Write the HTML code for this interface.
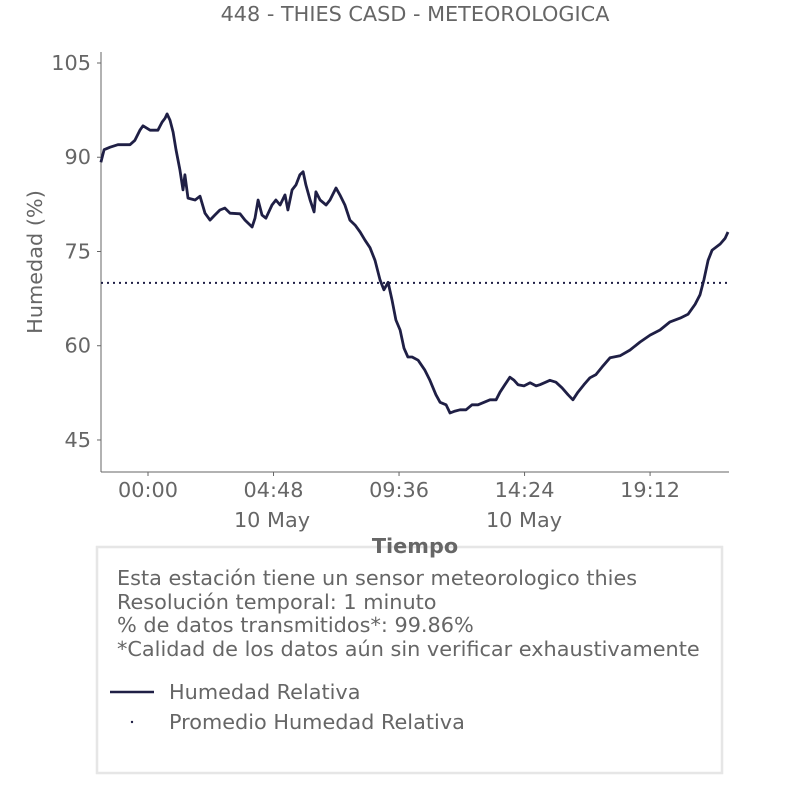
<!DOCTYPE html>
<html><head><meta charset="utf-8"><style>
body{margin:0;background:#fff;}
svg{display:block;font-family:"DejaVu Sans","Liberation Sans",sans-serif;}
</style></head><body>
<svg id="chart" width="806" height="806" viewBox="0 0 806 806">
<text x="415" y="21" text-anchor="middle" font-size="20.8" fill="#666">448 - THIES CASD - METEOROLOGICA</text>
<line x1="101" y1="52" x2="101" y2="472" stroke="#666" stroke-width="1"/>
<line x1="101" y1="472" x2="729" y2="472" stroke="#666" stroke-width="1"/>
<g id="yticks"></g><g id="xticks"></g>
<text transform="translate(42,262) rotate(-90)" text-anchor="middle" font-size="20.8" fill="#666">Humedad (%)</text>
<text x="272" y="527" text-anchor="middle" font-size="20.8" fill="#666">10 May</text>
<text x="524" y="527" text-anchor="middle" font-size="20.8" fill="#666">10 May</text>
<path id="meanline" fill="none" stroke="#1f1f45" stroke-width="2" stroke-dasharray="2,4"/>
<path id="series" fill="none" stroke="#1f1f45" stroke-width="2.8" stroke-linejoin="round"/>
<rect x="97" y="547" width="625" height="226" fill="#fff" stroke="#e6e6e6" stroke-width="2.5"/>
<text x="415" y="553" text-anchor="middle" font-size="20.8" font-weight="bold" fill="#666">Tiempo</text>
<g font-size="20.8" fill="#666">
<text x="117" y="585">Esta estación tiene un sensor meteorologico thies</text>
<text x="117" y="609">Resolución temporal: 1 minuto</text>
<text x="117" y="632">% de datos transmitidos*: 99.86%</text>
<text x="117" y="656">*Calidad de los datos aún sin verificar exhaustivamente</text>
</g>
<line x1="110" y1="692" x2="154" y2="692" stroke="#1f1f45" stroke-width="2.5"/>
<text x="169" y="699" font-size="20.8" fill="#666">Humedad Relativa</text>
<circle cx="132" cy="722" r="1.2" fill="#1f1f45"/>
<text x="169" y="729" font-size="20.8" fill="#666">Promedio Humedad Relativa</text>
</svg>
<script>
const times=[-1.80,-1.68,-1.45,-1.15,-0.69,-0.50,-0.31,-0.19,0.08,0.38,0.54,0.65,0.73,0.84,0.96,1.07,1.22,1.34,1.41,1.53,1.80,1.99,2.18,2.37,2.56,2.75,2.94,3.14,3.52,3.71,3.98,4.09,4.21,4.36,4.51,4.74,4.89,5.05,5.24,5.35,5.51,5.66,5.81,5.93,6.04,6.20,6.35,6.42,6.58,6.81,6.96,7.19,7.34,7.53,7.72,7.92,8.11,8.30,8.49,8.68,8.87,9.02,9.18,9.33,9.48,9.64,9.79,9.94,10.10,10.33,10.59,10.78,11.01,11.17,11.40,11.55,11.74,11.93,12.16,12.39,12.62,12.85,13.08,13.31,13.46,13.65,13.84,14.00,14.15,14.38,14.61,14.84,14.99,15.37,15.60,15.83,16.06,16.25,16.44,16.67,16.90,17.13,17.36,17.67,18.05,18.43,18.82,19.20,19.58,19.96,20.35,20.65,20.92,21.11,21.26,21.42,21.57,21.88,22.07,22.18];
const humidity=[89.2,91.2,91.6,92.0,92.0,92.7,94.3,95.0,94.3,94.3,95.6,96.2,96.9,95.9,94.0,91.2,88.0,84.8,87.2,83.5,83.2,83.8,81.1,80.0,80.8,81.6,81.9,81.1,81.0,80.0,78.9,80.3,83.2,80.8,80.3,82.4,83.2,82.4,84.0,81.6,84.8,85.6,87.2,87.7,85.6,83.2,81.3,84.5,83.2,82.4,83.2,85.1,84.0,82.4,80.0,79.2,78.1,76.8,75.6,73.6,70.5,68.9,70.1,67.3,64.1,62.5,59.6,58.2,58.2,57.7,56.1,54.5,52.2,51.0,50.6,49.3,49.6,49.8,49.8,50.6,50.6,51.0,51.4,51.4,52.6,53.8,55.0,54.5,53.8,53.6,54.1,53.6,53.8,54.5,54.2,53.3,52.2,51.4,52.6,53.8,54.9,55.4,56.6,58.1,58.4,59.3,60.6,61.7,62.5,63.8,64.4,65.0,66.6,68.1,70.5,73.6,75.2,76.2,77.1,78.1];
const meanValue=[70];
const yTicks=[45,60,75,90,105];
const xTickHours=[0,4.8,9.6,14.4,19.2];
const xTickLabels=["00:00","04:48","09:36","14:24","19:12"];
const NS="http://www.w3.org/2000/svg";
function X(h){return 148+h*26.15;}
function Y(v){return 63+(105-v)*6.283;}
const yg=document.getElementById('yticks');
yTicks.forEach(v=>{
  const l=document.createElementNS(NS,'line');
  
  
  l.setAttribute('x1',97);l.setAttribute('x2',101);l.setAttribute('y1',Y(v));l.setAttribute('y2',Y(v));l.setAttribute('stroke','#666');
  yg.appendChild(l);
  const t=document.createElementNS(NS,'text');
  
  
  t.setAttribute('x',91);t.setAttribute('y',Y(v)+7);t.setAttribute('text-anchor','end');t.setAttribute('font-size','20.8');t.setAttribute('fill','#666');
  t.textContent=v;yg.appendChild(t);
});
const xg=document.getElementById('xticks');
xTickHours.forEach((h,i)=>{
  const l=document.createElementNS(NS,'line');
  
  
  l.setAttribute('x1',X(h));l.setAttribute('x2',X(h));l.setAttribute('y1',472);l.setAttribute('y2',476);l.setAttribute('stroke','#666');
  xg.appendChild(l);
  const t=document.createElementNS(NS,'text');
  
  
  t.setAttribute('x',X(h));t.setAttribute('y',497);t.setAttribute('text-anchor','middle');t.setAttribute('font-size','20.8');t.setAttribute('fill','#666');
  t.textContent=xTickLabels[i];xg.appendChild(t);
});
let d='';
times.forEach((h,i)=>{d+=(i?'L':'M')+X(h).toFixed(1)+','+Y(humidity[i]).toFixed(1);});
document.getElementById('series').setAttribute('d',d);
document.getElementById('meanline').setAttribute('d','M101,'+Y(meanValue[0])+'L729,'+Y(meanValue[0]));
</script>
</body></html>
